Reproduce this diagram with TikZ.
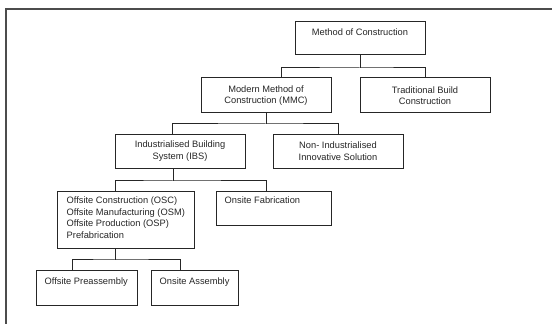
\documentclass[tikz,border=0pt]{standalone}
\usepackage{fontspec}
\setmainfont{Liberation Sans}
\begin{document}
\begin{tikzpicture}[x=1pt,y=1pt,
  box/.style={draw=black!85,line width=1pt,inner sep=0pt,anchor=center},
  txt/.style={inner sep=0pt,font=\fontsize{9.3}{11.5}\selectfont,text=black!85},
  ctxt/.style={txt,align=center},
  ltxt/.style={txt,align=left,anchor=north west},
  conn/.style={draw=black!85,line width=1pt}]
\useasboundingbox[fill=white] (0,0) rectangle (552,324);
% frame
\draw[black!70,line width=1.3pt] (6,-2) -- (6,315) -- (554,315);
% boxes
\node[box,minimum width=130pt,minimum height=33pt] (mc) at (360,285.5) {};
\node[box,minimum width=130pt,minimum height=35pt] (mmc) at (266,228.5) {};
\node[box,minimum width=130pt,minimum height=35pt] (trad) at (425,228.5) {};
\node[box,minimum width=130pt,minimum height=34pt] (ibs) at (180,172) {};
\node[box,minimum width=130pt,minimum height=34pt] (nonind) at (338,172) {};
\node[box,minimum width=137pt,minimum height=57pt] (osc) at (125.5,103.5) {};
\node[box,minimum width=115pt,minimum height=34pt] (fab) at (273.5,115) {};
\node[box,minimum width=101pt,minimum height=35pt] (pre) at (86.5,35.5) {};
\node[box,minimum width=87pt,minimum height=35pt] (assy) at (194.5,35.5) {};
% texts
\node[ctxt] (tmc) at ([yshift=6pt]mc.center) {Method of Construction};
\node[ctxt] (tmmc) at (mmc.center) {Modern Method of\\Construction (MMC)};
\node[ctxt] (ttrad) at (trad.center) {Traditional Build\\Construction};
\node[ctxt] (tibs) at ([yshift=1pt]ibs.center) {Industrialised Building\\System (IBS)};
\node[ctxt] (tnon) at ([yshift=1pt]nonind.center) {Non- Industrialised\\Innovative Solution};
\node[ltxt] (tosc) at ([xshift=10pt,yshift=-5.5pt]osc.north west) {Offsite Construction (OSC)\\Offsite Manufacturing (OSM)\\Offsite Production (OSP)\\Prefabrication};
\node[ltxt] (tfab) at ([xshift=9pt,yshift=-5.5pt]fab.north west) {Onsite Fabrication};
\node[ltxt] (tpre) at ([xshift=9pt,yshift=-7.5pt]pre.north west) {Offsite Preassembly};
\node[ltxt] (tassy) at ([xshift=9pt,yshift=-7.5pt]assy.north west) {Onsite Assembly};
% connectors
\coordinate (j1) at (360,256);
\draw[conn] (mc.south) -- (j1);
\draw[conn] ([xshift=15pt]mmc.north) |- (j1) -| (trad.north);
\coordinate (j2) at (266,200);
\draw[conn] (mmc.south) -- (j2);
\draw[conn] ([xshift=-8pt]ibs.north) |- (j2) -| (nonind.north);
\coordinate (j3) at (173,143);
\draw[conn] ([xshift=-7pt]ibs.south) -- (j3);
\draw[conn] ([xshift=-10.5pt]osc.north) |- (j3) -| ([xshift=-7.5pt]fab.north);
\coordinate (j4) at (115,64);
\draw[conn] ([xshift=-10.5pt]osc.south) -- (j4);
\draw[conn] ([xshift=-14.5pt]pre.north) |- (j4) -| ([xshift=-14.5pt]assy.north);
\end{tikzpicture}
\end{document}
